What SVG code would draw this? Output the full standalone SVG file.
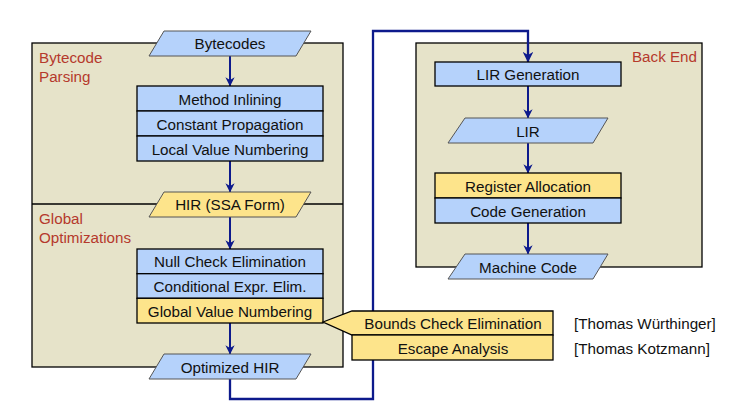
<svg xmlns="http://www.w3.org/2000/svg" width="740" height="410" viewBox="0 0 740 410">
<style>
.frame{fill:#e6e3c9;stroke:#000;stroke-width:1.3}
.blue{fill:#b5d2fb;stroke:#000;stroke-width:1.3}
.yel{fill:#fde48b;stroke:#000;stroke-width:1.3}
.pblue{fill:#b5d2fb;stroke:#555;stroke-width:1}
.pyel{fill:#fde48b;stroke:#555;stroke-width:1}
text{font-family:"Liberation Sans",Arial,sans-serif;font-size:15.2px;fill:#111}
.c{text-anchor:middle}
.lbl{fill:#b5392c;font-size:15.2px}
.conn{fill:none;stroke:#0d1a8c;stroke-width:2}
</style>
<defs>
<marker id="ah" viewBox="0 0 10 10" refX="9.5" refY="5" markerWidth="4.6" markerHeight="4.6" orient="auto" markerUnits="strokeWidth">
<path d="M0,0 L10,5 L0,10 L3,5 z" fill="#0d1a8c"/>
</marker>
</defs>

<g id="frame-frontend">
<rect class="frame" x="32" y="43" width="311" height="324"/>
<line x1="32" y1="204" x2="343" y2="204" stroke="#000" stroke-width="1.3"/>
<text class="lbl" x="39" y="63">Bytecode</text>
<text class="lbl" x="39" y="82">Parsing</text>
<text class="lbl" x="39" y="224">Global</text>
<text class="lbl" x="39" y="243">Optimizations</text>
</g>
<g id="frame-backend">
<rect class="frame" x="416" y="43" width="286" height="224"/>
<text class="lbl" x="697" y="62" text-anchor="end">Back End</text>
</g>

<g id="connectors">
<line class="conn" x1="230" y1="56" x2="230" y2="86" marker-end="url(#ah)"/>
<line class="conn" x1="230" y1="161" x2="230" y2="192" marker-end="url(#ah)"/>
<line class="conn" x1="230" y1="217" x2="230" y2="249" marker-end="url(#ah)"/>
<line class="conn" x1="230" y1="323" x2="230" y2="354" marker-end="url(#ah)"/>
<polyline class="conn" style="stroke-width:2.3" points="230,379 230,399 373,399 373,31 528,31 528,62" marker-end="url(#ah)"/>
<line class="conn" x1="528" y1="86" x2="528" y2="118" marker-end="url(#ah)"/>
<line class="conn" x1="528" y1="143" x2="528" y2="173" marker-end="url(#ah)"/>
<line class="conn" x1="528" y1="223" x2="528" y2="254" marker-end="url(#ah)"/>
</g>

<g id="bytecodes">
<polygon class="pblue" points="164,31 311,31 296,56 149,56"/>
<text class="c" x="230" y="49">Bytecodes</text>
</g>
<g id="parsing-box">
<rect class="blue" x="137" y="86" width="186" height="25"/>
<rect class="blue" x="137" y="111" width="186" height="25"/>
<rect class="blue" x="137" y="136" width="186" height="25"/>
<text class="c" x="230" y="104.5">Method Inlining</text>
<text class="c" x="230" y="129.5">Constant Propagation</text>
<text class="c" x="230" y="154.5">Local Value Numbering</text>
</g>
<g id="hir">
<polygon class="pyel" points="164,192 311,192 296,217 149,217"/>
<text class="c" x="230" y="210">HIR (SSA Form)</text>
</g>
<g id="opt-box">
<rect class="blue" x="137" y="249" width="186" height="24.7"/>
<rect class="blue" x="137" y="273.7" width="186" height="24.6"/>
<rect class="yel" x="137" y="298.3" width="186" height="24.7"/>
<text class="c" x="230" y="267">Null Check Elimination</text>
<text class="c" x="230" y="291.5">Conditional Expr. Elim.</text>
<text class="c" x="230" y="316.5">Global Value Numbering</text>
</g>
<g id="optimized-hir">
<polygon class="pblue" points="164,354 311,354 296,379 149,379"/>
<text class="c" x="230" y="372.5">Optimized HIR</text>
</g>
<g id="bounds-check">
<polygon class="yel" points="323,322 352,311 553,311 553,335 352,335"/>
<text class="c" x="453" y="329">Bounds Check Elimination</text>
</g>
<g id="escape-analysis">
<rect class="yel" x="352" y="335" width="201" height="25"/>
<text class="c" x="453" y="353.5">Escape Analysis</text>
</g>
<g id="cite-1"><text x="574" y="329">[Thomas Würthinger]</text></g>
<g id="cite-2"><text x="574" y="353.5">[Thomas Kotzmann]</text></g>

<g id="lir-generation">
<rect class="blue" x="435" y="62" width="186" height="24"/>
<text class="c" x="528" y="80">LIR Generation</text>
</g>
<g id="lir">
<polygon class="pblue" points="465,118 608,118 593,143 448,143"/>
<text class="c" x="528" y="136.5">LIR</text>
</g>
<g id="backend-box">
<rect class="yel" x="435" y="173" width="186" height="25"/>
<rect class="blue" x="435" y="198" width="186" height="25"/>
<text class="c" x="528" y="191.5">Register Allocation</text>
<text class="c" x="528" y="216.5">Code Generation</text>
</g>
<g id="machine-code">
<polygon class="pblue" points="465,254 608,254 593,279 448,279"/>
<text class="c" x="528" y="272.5">Machine Code</text>
</g>
</svg>
